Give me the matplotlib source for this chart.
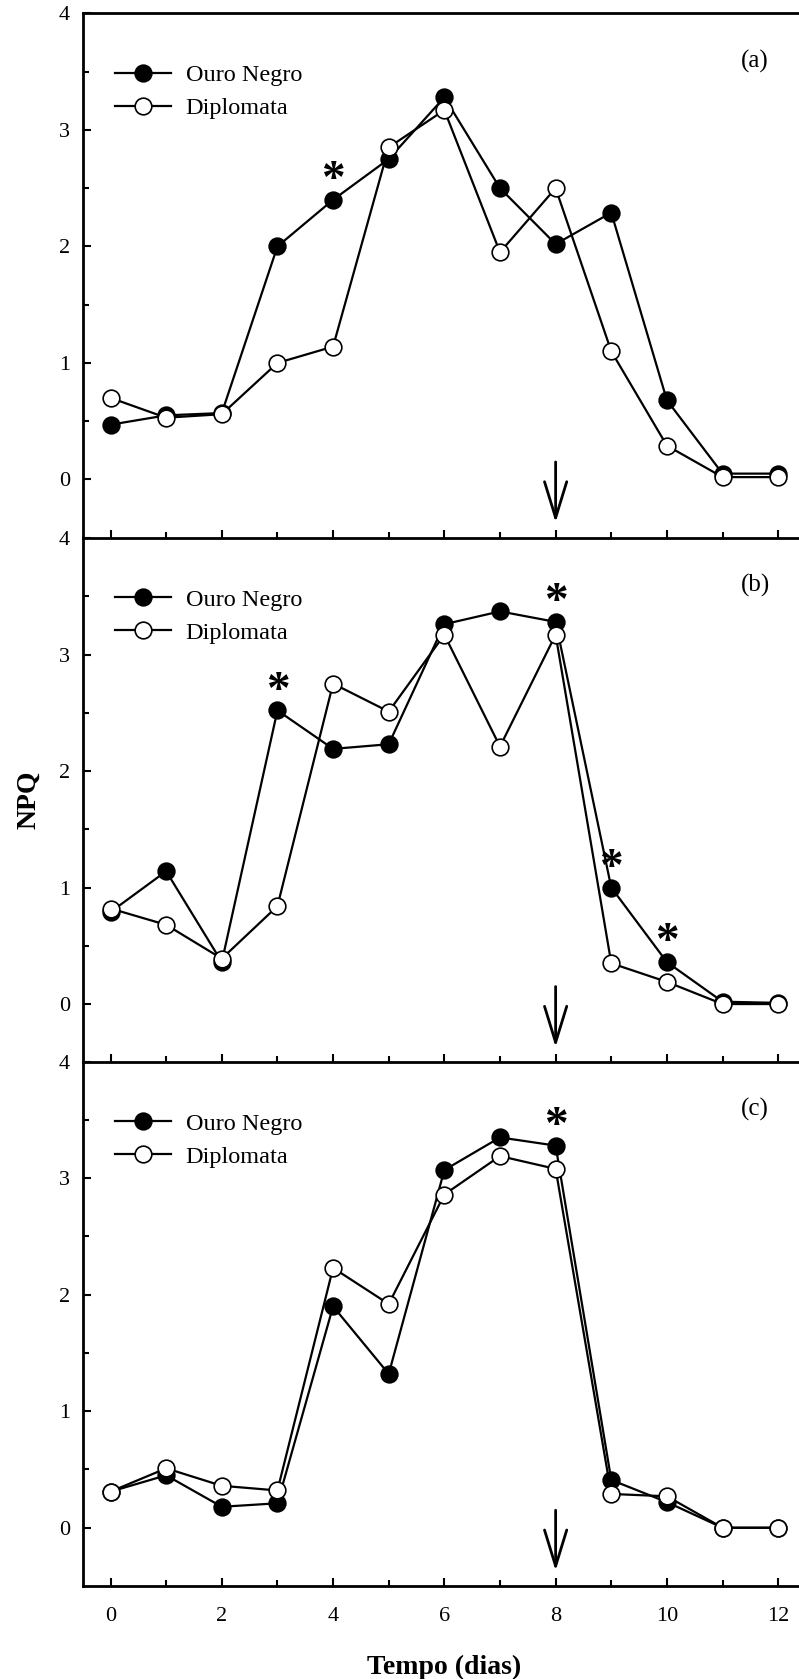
import matplotlib
matplotlib.use('Agg')
import numpy as np
import matplotlib.pyplot as plt
from matplotlib.ticker import MultipleLocator

plt.rcParams['font.family'] = ['Liberation Serif', 'DejaVu Serif']

# Time axis (days)
days = list(range(13))

# NPQ values, one pair of series per panel
ouro_a = [0.47, 0.55, 0.57, 2.00, 2.40, 2.75, 3.28, 2.50, 2.02, 2.29, 0.68, 0.05, 0.05]
dipl_a = [0.70, 0.53, 0.56, 1.00, 1.14, 2.85, 3.17, 1.95, 2.50, 1.10, 0.29, 0.02, 0.02]

ouro_b = [0.79, 1.14, 0.36, 2.52, 2.19, 2.23, 3.26, 3.37, 3.28, 1.00, 0.36, 0.02, 0.01]
dipl_b = [0.82, 0.68, 0.39, 0.84, 2.75, 2.51, 3.17, 2.21, 3.17, 0.35, 0.19, 0.00, 0.00]

ouro_c = [0.31, 0.45, 0.18, 0.21, 1.90, 1.32, 3.07, 3.35, 3.28, 0.41, 0.22, 0.00, 0.00]
dipl_c = [0.31, 0.51, 0.36, 0.32, 2.23, 1.92, 2.86, 3.19, 3.08, 0.29, 0.27, 0.00, 0.00]

# days where Ouro Negro differs significantly (asterisks)
signif_a = [4]
signif_b = [3, 8, 9, 10]
signif_c = [8]

panel_labels = ['(a)', '(b)', '(c)']
arrow_day = 8

panels = [(ouro_a, dipl_a, signif_a), (ouro_b, dipl_b, signif_b), (ouro_c, dipl_c, signif_c)]

fig = plt.figure(figsize=(7.99, 16.79), dpi=100)

W, H = 799.0, 1679.0
left = 82.7 / W
width = (806.0 - 82.7) / W
ph = 524.3 / H
bottoms = [(H - 537.7) / H, (H - 1062.3) / H, (H - 1586.0) / H]

axes = []
for i, (ouro, dipl, signif) in enumerate(panels):
    ax = fig.add_axes([left, bottoms[i], width, ph])
    ax.patch.set_visible(False)
    axes.append(ax)

    ax.plot(days, ouro, '-o', color='black', lw=1.6, markersize=12,
            markerfacecolor='black', markeredgecolor='black', markeredgewidth=1.2,
            label='Ouro Negro', zorder=3)
    ax.plot(days, dipl, '-o', color='black', lw=1.6, markersize=12,
            markerfacecolor='white', markeredgecolor='black', markeredgewidth=1.2,
            label='Diplomata', zorder=4)

    for d in signif:
        ax.text(d, ouro[d] + 0.16, '*', fontsize=34, ha='center', va='center',
                fontweight='bold')

    # arrow marking day 8
    ax.annotate('', xy=(arrow_day, -0.37), xytext=(arrow_day, 0.15),
                arrowprops=dict(arrowstyle='->,head_length=26,head_width=8',
                                mutation_scale=1, lw=2, color='black',
                                shrinkA=0, shrinkB=0))

    ax.set_xlim(-0.5, 12.5)
    ax.set_ylim(-0.5, 4)
    ax.xaxis.set_major_locator(MultipleLocator(2))
    ax.xaxis.set_minor_locator(MultipleLocator(1))
    ax.set_yticks([0, 1, 2, 3, 4])
    ax.set_yticks([0.5, 1.5, 2.5, 3.5], minor=True)
    ax.tick_params(which='both', direction='in', top=False, right=False, width=1.5)
    ax.tick_params(which='major', length=6)
    ax.tick_params(which='minor', length=4)
    ax.tick_params(axis='y', labelsize=16, pad=9)
    ax.tick_params(axis='x', labelsize=16, pad=15)

    for s in ['left', 'bottom', 'top']:
        ax.spines[s].set_linewidth(2)
    ax.spines['right'].set_visible(False)
    if i > 0:
        ax.spines['top'].set_visible(False)
    if i < 2:
        ax.tick_params(axis='x', labelbottom=False)

    ax.text(0.9295, 0.909, panel_labels[i], transform=ax.transAxes,
            fontsize=18, ha='center', va='center')

    ax.legend(loc='upper left', bbox_to_anchor=(0.045, 0.903), frameon=False,
              fontsize=17.5, handlelength=2.3, handletextpad=0.6, labelspacing=0.45,
              borderpad=0, borderaxespad=0)

axes[1].set_ylabel('NPQ', fontsize=20, fontweight='bold', labelpad=13)
axes[2].set_xlabel('Tempo (dias)', fontsize=20, fontweight='bold', labelpad=21)

fig.savefig('out.png', dpi=100)
